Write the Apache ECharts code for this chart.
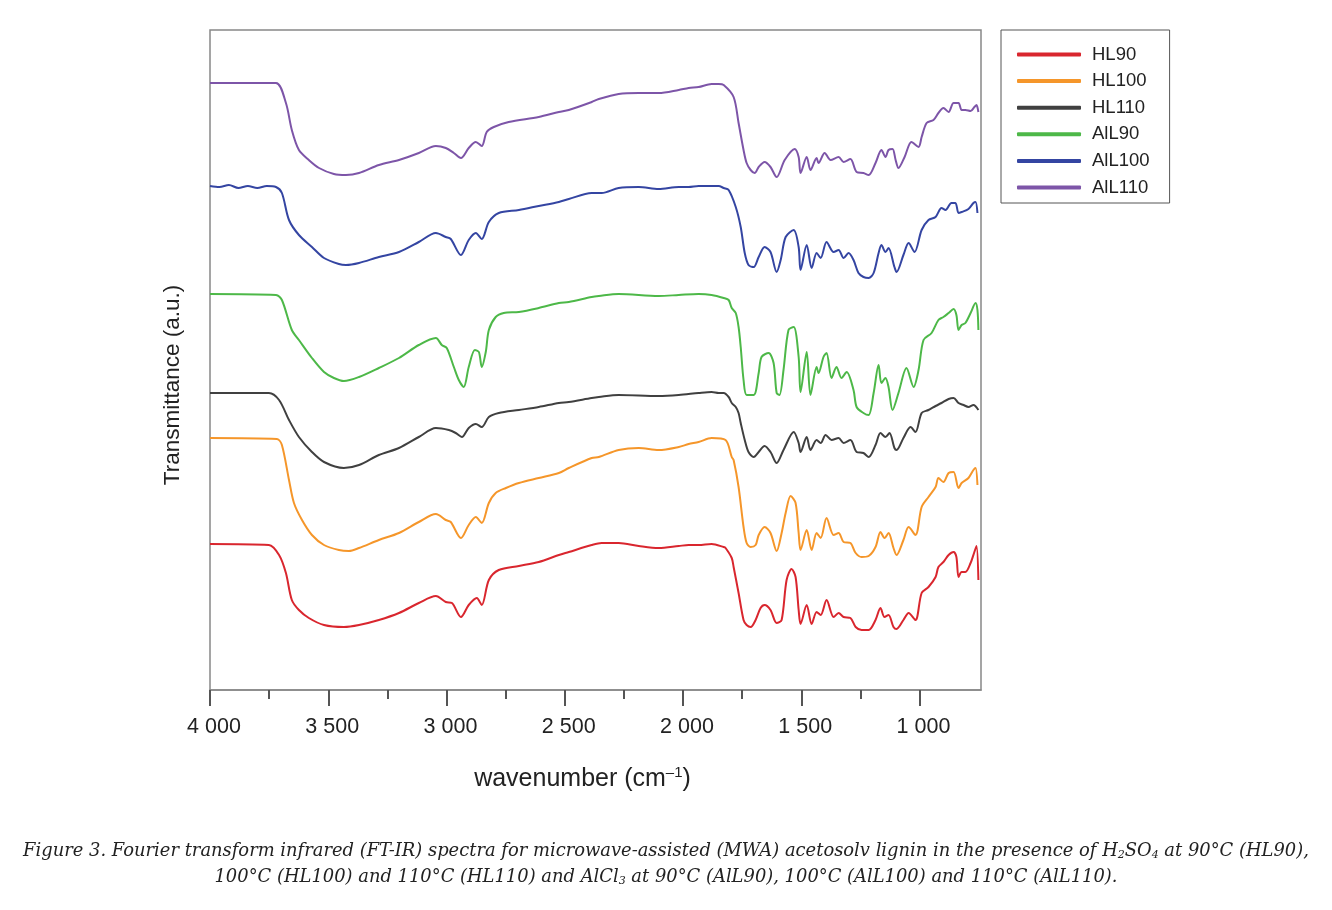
<!DOCTYPE html>
<html>
<head>
<meta charset="utf-8">
<script src="https://cdn.jsdelivr.net/npm/echarts@6/dist/echarts.min.js"></script>
<style>html,body{margin:0;padding:0;background:#fff}#c{width:1332px;height:910px}</style>
</head>
<body>
<div id="c"></div>
<script>
// Tick labels (wavenumber, cm-1)
var majorTicks = [4000, 3500, 3000, 2500, 2000, 1500, 1000];
var minorTicks = [3750, 3250, 2750, 2250, 1750, 1250];
var seriesNames = ['HL90', 'HL100', 'HL110', 'AlL90', 'AlL100', 'AlL110'];

// [wavenumber, transmittance (a.u., offset stacked)]
var HL90 = [[4000,146],[3751,145],[3708,135],[3679,117],[3654,90],[3624,80],[3582,72],[3518,65],[3434,63],[3370,65],[3286,70],[3201,77],[3117,87],[3045,94],[3003,88],[2977,87],[2939,73],[2906,85],[2872,92],[2851,85],[2821,110],[2779,120],[2694,124],[2610,128],[2525,135],[2483,138],[2386,145],[2344,147],[2272,147],[2187,144],[2103,142],[2018,144],[1976,145],[1934,145],[1879,146],[1828,143],[1820,142],[1794,132],[1786,123],[1765,97],[1744,70],[1731,65],[1714,63],[1693,70],[1672,82],[1655,85],[1630,80],[1604,67],[1583,70],[1562,110],[1541,121],[1524,113],[1511,80],[1503,66],[1477,85],[1456,66],[1435,78],[1418,75],[1393,90],[1363,73],[1342,77],[1321,73],[1292,72],[1270,63],[1245,60],[1215,60],[1186,70],[1165,82],[1148,73],[1131,75],[1110,63],[1097,61],[1068,70],[1046,77],[1017,70],[991,97],[962,103],[932,113],[920,123],[899,128],[877,135],[856,138],[844,133],[835,113],[822,118],[806,118],[784,127],[768,138],[759,144],[751,110]];

var HL100 = [[4000,252],[3717,251],[3696,245],[3666,210],[3645,187],[3611,170],[3569,155],[3518,145],[3455,140],[3413,139],[3370,142],[3286,150],[3201,157],[3117,168],[3045,176],[3003,170],[2982,168],[2939,152],[2906,165],[2876,173],[2851,167],[2821,187],[2792,197],[2749,202],[2694,207],[2610,212],[2525,217],[2483,222],[2386,232],[2356,233],[2272,240],[2187,242],[2103,240],[2018,243],[1976,246],[1934,248],[1879,252],[1820,250],[1794,233],[1786,230],[1765,203],[1744,163],[1731,147],[1714,143],[1693,145],[1680,155],[1655,163],[1630,157],[1604,139],[1583,157],[1566,177],[1545,194],[1524,187],[1511,157],[1503,140],[1477,160],[1456,140],[1435,157],[1418,152],[1393,172],[1363,155],[1342,157],[1321,148],[1292,147],[1270,137],[1245,133],[1215,134],[1186,143],[1165,158],[1148,152],[1131,157],[1110,142],[1097,135],[1068,150],[1046,163],[1017,155],[991,183],[962,193],[932,203],[920,212],[899,208],[877,217],[856,218],[835,202],[822,207],[793,212],[772,220],[763,222],[755,205]];

var HL110 = [[4000,297],[3751,297],[3708,290],[3666,270],[3624,253],[3569,238],[3518,228],[3434,222],[3370,225],[3286,235],[3201,242],[3117,253],[3045,262],[2990,260],[2961,257],[2935,253],[2906,262],[2876,266],[2851,263],[2821,273],[2779,277],[2694,280],[2610,283],[2525,287],[2483,288],[2386,292],[2356,293],[2272,295],[2103,294],[2018,295],[1934,297],[1879,298],[1849,297],[1828,297],[1807,293],[1794,287],[1777,283],[1765,277],[1756,267],[1739,250],[1723,238],[1701,233],[1680,238],[1655,244],[1630,238],[1604,227],[1575,240],[1532,258],[1511,247],[1503,238],[1477,253],[1461,240],[1435,250],[1418,247],[1397,255],[1372,250],[1342,252],[1321,247],[1292,250],[1266,238],[1237,237],[1215,233],[1186,245],[1165,257],[1144,253],[1127,257],[1106,242],[1097,240],[1068,252],[1038,263],[1017,258],[991,277],[962,280],[932,284],[907,287],[877,291],[856,292],[835,287],[814,285],[793,283],[772,285],[751,280]];

var AlL90 = [[4000,396],[3721,395],[3696,390],[3654,360],[3624,350],[3569,332],[3518,318],[3476,312],[3434,309],[3370,313],[3286,322],[3201,332],[3117,345],[3045,352],[3020,345],[2999,342],[2969,323],[2948,310],[2927,303],[2906,323],[2880,340],[2863,338],[2851,323],[2834,338],[2821,360],[2792,373],[2758,377],[2694,378],[2610,382],[2525,387],[2483,388],[2386,393],[2356,394],[2272,396],[2103,394],[2018,395],[1934,396],[1879,395],[1828,392],[1807,390],[1794,382],[1777,377],[1765,363],[1756,343],[1744,310],[1731,295],[1701,295],[1680,317],[1668,333],[1638,337],[1617,327],[1604,297],[1592,295],[1575,320],[1554,360],[1532,363],[1511,333],[1503,298],[1477,338],[1461,295],[1435,323],[1427,317],[1406,333],[1393,337],[1372,312],[1351,323],[1330,312],[1308,318],[1279,300],[1266,283],[1237,277],[1215,275],[1194,297],[1173,325],[1161,307],[1144,312],[1131,303],[1114,280],[1089,297],[1055,322],[1025,303],[1004,320],[983,350],[949,357],[920,370],[899,373],[877,377],[856,381],[844,375],[835,360],[822,365],[806,367],[784,377],[763,387],[755,380],[751,360]];

var AlL100 = [[4000,504],[3960,503],[3920,505],[3880,502],[3840,504],[3800,502],[3760,504],[3721,503],[3696,497],[3666,470],[3624,455],[3569,443],[3518,432],[3455,426],[3425,425],[3370,427],[3286,433],[3201,438],[3117,448],[3045,457],[3003,453],[2982,451],[2939,435],[2906,450],[2876,457],[2851,451],[2821,468],[2779,477],[2694,480],[2610,484],[2525,488],[2483,491],[2386,497],[2344,497],[2272,502],[2187,503],[2103,501],[2018,503],[1976,503],[1934,504],[1879,504],[1849,504],[1828,502],[1807,500],[1777,483],[1756,463],[1739,437],[1723,425],[1701,423],[1680,433],[1655,443],[1630,438],[1604,418],[1587,430],[1566,453],[1532,460],[1511,443],[1503,420],[1477,445],[1456,422],[1435,437],[1418,432],[1393,448],[1363,438],[1342,440],[1321,432],[1300,437],[1279,430],[1258,417],[1237,413],[1215,412],[1194,417],[1173,437],[1161,445],[1144,438],[1131,442],[1106,423],[1097,418],[1068,435],[1046,447],[1021,438],[991,460],[962,470],[932,473],[907,482],[890,480],[865,487],[848,487],[835,477],[822,478],[793,481],[772,487],[763,488],[755,477]];

var AlL110 = [[4000,607],[3850,607],[3721,607],[3679,587],[3654,560],[3624,540],[3582,530],[3539,522],[3476,516],[3425,515],[3370,517],[3286,525],[3201,530],[3117,537],[3045,544],[3003,542],[2969,537],[2939,532],[2906,542],[2876,548],[2851,544],[2830,558],[2800,563],[2737,568],[2610,573],[2525,578],[2483,580],[2386,588],[2356,591],[2272,596],[2187,597],[2103,597],[2018,600],[1976,602],[1934,603],[1879,606],[1849,606],[1828,605],[1786,593],[1765,567],[1744,540],[1731,527],[1714,520],[1697,517],[1680,523],[1655,528],[1630,523],[1604,513],[1570,530],[1528,541],[1511,533],[1503,517],[1477,533],[1461,520],[1435,532],[1427,527],[1401,537],[1376,530],[1342,533],[1321,528],[1292,531],[1266,518],[1237,517],[1215,515],[1186,527],[1161,540],[1144,533],[1131,540],[1114,541],[1101,530],[1089,522],[1063,533],[1034,548],[1004,543],[991,553],[970,567],[941,570],[920,577],[899,582],[877,578],[856,587],[835,587],[822,580],[806,580],[784,579],[768,583],[759,585],[751,578]];

var seriesData = [HL90, HL100, HL110, AlL90, AlL100, AlL110];
var colors = ['#d9262e', '#f5962a', '#404040', '#4db848', '#3445a2', '#7d55a8'];

var chart = echarts.init(document.getElementById('c'), null, {renderer: 'canvas'});
var FONT = '"Liberation Sans", Arial, sans-serif';
var SERIF = '"DejaVu Serif", "Liberation Serif", serif';

var option = {
  animation: false,
  backgroundColor: '#fff',
  color: colors,
  grid: {left: 210, right: 351, top: 30, bottom: 220, show: true, borderColor: '#888', borderWidth: 1.5, backgroundColor: 'transparent'},
  title: {
    text: '{i|Figure 3. Fourier transform infrared (FT-IR) spectra for microwave-assisted (MWA) acetosolv lignin in the presence of H}{s|2}{i|SO}{s|4}{i| at 90°C (HL90),}\n{i|100°C (HL100) and 110°C (HL110) and AlCl}{s|3}{i| at 90°C (AlL90), 100°C (AlL100) and 110°C (AlL110).}',
    left: 'center',
    top: 833,
    textStyle: {
      fontWeight: 'normal',
      rich: {
        i: {fontFamily: SERIF, fontStyle: 'italic', fontWeight: 'normal', fontSize: 17.9, color: '#222', lineHeight: 26},
        s: {fontFamily: SERIF, fontStyle: 'italic', fontWeight: 'normal', fontSize: 11, color: '#222', lineHeight: 26, padding: [9, 0, 0, 0]}
      }
    }
  },
  legend: {
    orient: 'vertical',
    left: 1001,
    top: 30,
    padding: [15, 20, 6, 16],
    itemGap: 7.6,
    itemWidth: 64,
    itemHeight: 4,
    icon: 'roundRect',
    borderColor: '#555',
    borderWidth: 1,
    textStyle: {fontFamily: FONT, fontSize: 18.5, color: '#222', padding: [0, 0, 0, 6]},
    data: seriesNames
  },
  xAxis: [{
    type: 'value',
    inverse: true,
    min: 740,
    max: 4000,
    name: 'wavenumber (cm{sup|–1})',
    nameLocation: 'middle',
    nameGap: 75,
    nameTextStyle: {
      fontFamily: FONT, fontSize: 25, color: '#222', padding: [0, 26, 0, 0],
      rich: {sup: {fontFamily: FONT, fontSize: 15, color: '#222', padding: [0, 0, 13, 0]}}
    },
    axisLine: {show: true, lineStyle: {color: '#888', width: 1.5}},
    axisTick: {show: true, length: 16, inside: false, customValues: majorTicks, lineStyle: {color: '#555', width: 2}},
    axisLabel: {
      customValues: majorTicks,
      margin: 26,
      fontFamily: FONT, fontSize: 21.5, color: '#222',
      padding: [0, 0, 0, 8],
      formatter: function (v) { return v >= 1000 ? Math.floor(v / 1000) + ' ' + String(v % 1000).padStart(3, '0') : String(v); }
    },
    splitLine: {show: false}
  }, {
    type: 'value',
    inverse: true,
    min: 740,
    max: 4000,
    position: 'bottom',
    axisLine: {show: false},
    axisTick: {show: true, length: 9, customValues: minorTicks, lineStyle: {color: '#555', width: 2}},
    axisLabel: {show: false},
    splitLine: {show: false}
  }],
  yAxis: {
    type: 'value',
    min: 0,
    max: 660,
    name: 'Transmittance (a.u.)',
    nameLocation: 'middle',
    nameGap: 26,
    nameTextStyle: {fontFamily: FONT, fontSize: 22.5, color: '#222', padding: [0, 50, 0, 0]},
    axisLine: {show: false},
    axisTick: {show: false},
    axisLabel: {show: false},
    splitLine: {show: false}
  },
  series: seriesNames.map(function (n, i) {
    return {
      name: n,
      type: 'line',
      xAxisIndex: 0,
      data: seriesData[i],
      showSymbol: false,
      smooth: 0.3,
      lineStyle: {width: 2, color: colors[i]},
      itemStyle: {color: colors[i]}
    };
  })
};
chart.setOption(option);
</script>
</body>
</html>
